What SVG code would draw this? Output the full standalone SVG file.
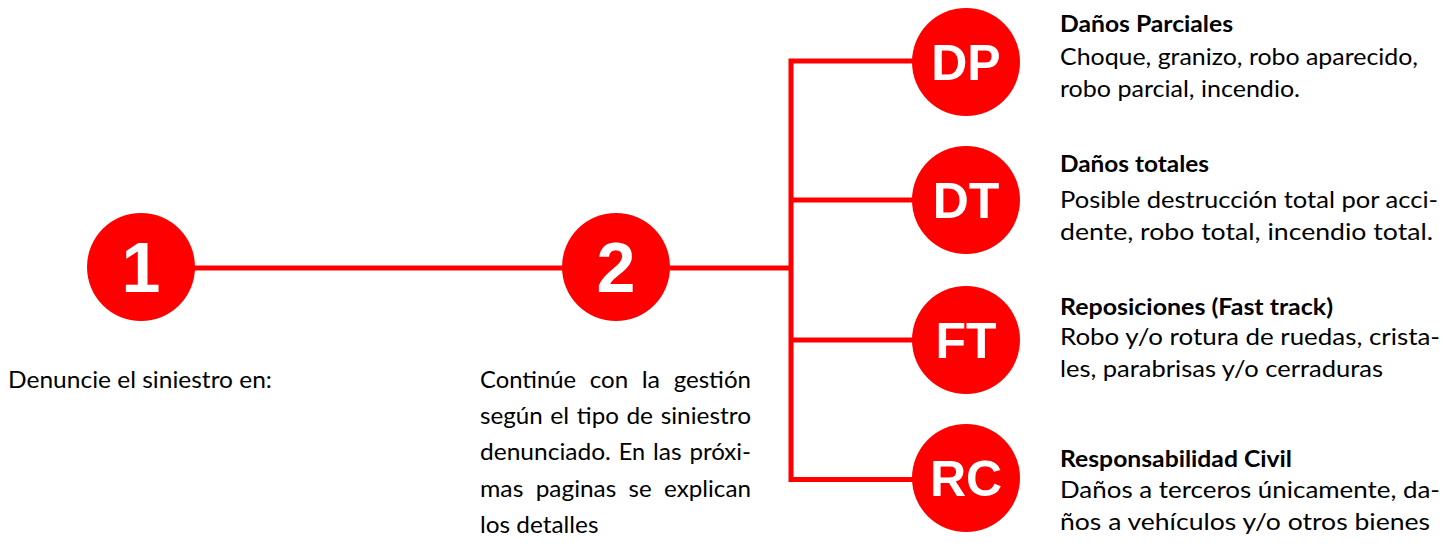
<svg xmlns="http://www.w3.org/2000/svg" width="1445" height="548" viewBox="0 0 1445 548">
<style>
.c{fill:#ff0000}
.lbl{font-family:"Liberation Sans",Arial,sans-serif;font-weight:bold;fill:#fff;text-anchor:middle}
.big{font-size:70px}
.sm{font-size:50px}
.t{font-family:Lato,"Open Sans",sans-serif;font-size:23px;fill:#000}
.b{font-weight:bold}
.ln{stroke:#ff0000;stroke-width:5;fill:none}
</style>
<rect width="1445" height="548" fill="#fff"/>
<g id="connectors">
<line class="ln" x1="190" y1="268" x2="570" y2="268"/>
<line class="ln" x1="660" y1="268" x2="791" y2="268"/>
<polyline class="ln" points="920,61 791,61 791,479.5 920,479.5" stroke-linejoin="miter"/>
<line class="ln" x1="791" y1="200" x2="920" y2="200"/>
<line class="ln" x1="791" y1="340" x2="920" y2="340"/>
</g>
<g id="node1">
<circle class="c" cx="141" cy="267" r="54"/>
<text class="lbl big" x="141" y="292">1</text>
<text class="t" x="8" y="388" textLength="264" lengthAdjust="spacingAndGlyphs">Denuncie el siniestro en:</text>
</g>
<g id="node2">
<circle class="c" cx="616" cy="267" r="54"/>
<text class="lbl big" x="616" y="292">2</text>
<text class="t" x="480" y="388" textLength="96" lengthAdjust="spacingAndGlyphs">Continúe</text>
<text class="t" x="589.7" y="388" textLength="38.4" lengthAdjust="spacingAndGlyphs">con</text>
<text class="t" x="641.7" y="388" textLength="18.4" lengthAdjust="spacingAndGlyphs">la</text>
<text class="t" x="673.7" y="388" textLength="77.3" lengthAdjust="spacingAndGlyphs">gestión</text>
<text class="t" x="480" y="424" textLength="62.7" lengthAdjust="spacingAndGlyphs">según</text>
<text class="t" x="550.3" y="424" textLength="18.9" lengthAdjust="spacingAndGlyphs">el</text>
<text class="t" x="576.8" y="424" textLength="42" lengthAdjust="spacingAndGlyphs">tipo</text>
<text class="t" x="626.4" y="424" textLength="26.6" lengthAdjust="spacingAndGlyphs">de</text>
<text class="t" x="660.7" y="424" textLength="90.3" lengthAdjust="spacingAndGlyphs">siniestro</text>
<text class="t" x="480" y="460" textLength="130.9" lengthAdjust="spacingAndGlyphs">denunciado.</text>
<text class="t" x="618.8" y="460" textLength="26.3" lengthAdjust="spacingAndGlyphs">En</text>
<text class="t" x="653" y="460" textLength="28.6" lengthAdjust="spacingAndGlyphs">las</text>
<text class="t" x="689.4" y="460" textLength="61.6" lengthAdjust="spacingAndGlyphs">próxi-</text>
<text class="t" x="480" y="497" textLength="43.4" lengthAdjust="spacingAndGlyphs">mas</text>
<text class="t" x="535.7" y="497" textLength="80.6" lengthAdjust="spacingAndGlyphs">paginas</text>
<text class="t" x="628.6" y="497" textLength="23.1" lengthAdjust="spacingAndGlyphs">se</text>
<text class="t" x="664.1" y="497" textLength="86.9" lengthAdjust="spacingAndGlyphs">explican</text>
<text class="t" x="480" y="533" textLength="118.5" lengthAdjust="spacingAndGlyphs">los detalles</text>
</g>
<g id="nodeDP">
<circle class="c" cx="966" cy="62" r="54"/>
<text class="lbl sm" x="966" y="80">DP</text>
<text class="t b" x="1060" y="32" textLength="173" lengthAdjust="spacingAndGlyphs">Daños Parciales</text>
<text class="t" x="1060" y="65" textLength="358" lengthAdjust="spacingAndGlyphs">Choque, granizo, robo aparecido,</text>
<text class="t" x="1060" y="97" textLength="240" lengthAdjust="spacingAndGlyphs">robo parcial, incendio.</text>
</g>
<g id="nodeDT">
<circle class="c" cx="966" cy="200" r="54"/>
<text class="lbl sm" x="966" y="218">DT</text>
<text class="t b" x="1060" y="172" textLength="149" lengthAdjust="spacingAndGlyphs">Daños totales</text>
<text class="t" x="1060" y="208" textLength="378" lengthAdjust="spacingAndGlyphs">Posible destrucción total por acci-</text>
<text class="t" x="1060" y="240" textLength="373" lengthAdjust="spacingAndGlyphs">dente, robo total, incendio total.</text>
</g>
<g id="nodeFT">
<circle class="c" cx="966" cy="340" r="54"/>
<text class="lbl sm" x="966" y="358">FT</text>
<text class="t b" x="1060" y="315" textLength="273" lengthAdjust="spacingAndGlyphs">Reposiciones (Fast track)</text>
<text class="t" x="1060" y="345" textLength="380" lengthAdjust="spacingAndGlyphs">Robo y/o rotura de ruedas, crista-</text>
<text class="t" x="1060" y="377" textLength="323" lengthAdjust="spacingAndGlyphs">les, parabrisas y/o cerraduras</text>
</g>
<g id="nodeRC">
<circle class="c" cx="966" cy="478" r="54"/>
<text class="lbl sm" x="966" y="496">RC</text>
<text class="t b" x="1060" y="467" textLength="232" lengthAdjust="spacingAndGlyphs">Responsabilidad Civil</text>
<text class="t" x="1060" y="498" textLength="380" lengthAdjust="spacingAndGlyphs">Daños a terceros únicamente, da-</text>
<text class="t" x="1060" y="530" textLength="370" lengthAdjust="spacingAndGlyphs">ños a vehículos y/o otros bienes</text>
</g>
</svg>
